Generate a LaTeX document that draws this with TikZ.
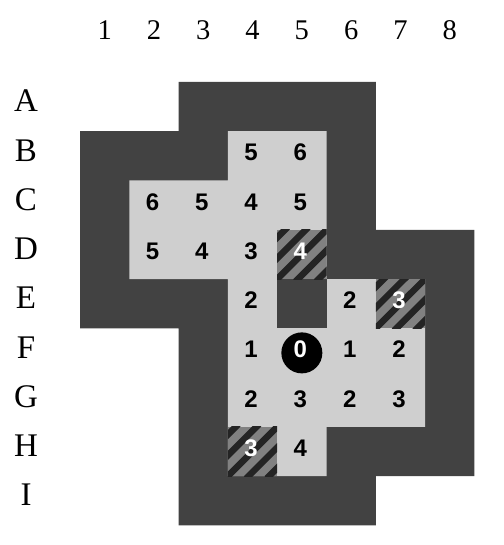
\documentclass[tikz,border=0pt]{standalone}
\usepackage{fontspec}
\setmainfont{Liberation Serif}
\newfontfamily\cellfont{Liberation Sans}
\definecolor{wall}{HTML}{424242}
\definecolor{floorc}{HTML}{CFCFCF}
\definecolor{hatchbg}{HTML}{818181}
\definecolor{hatchfg}{HTML}{242424}
\newcommand\hatchcell[2]{%
  \begin{scope}
    \clip (#1,#2) rectangle ++(1,1);
    \fill[hatchbg] (#1,#2) rectangle ++(1,1);
    \foreach \t in {-1.26,-0.84,-0.42,0,0.42,0.84,1.26}
      \draw[hatchfg, line width=6.5pt] (#1+\t-0.05,#2+1.05) -- ++(1.1,-1.1);
  \end{scope}}
\tikzset{
  collabel/.style={anchor=base, inner sep=0pt, font=\fontsize{28.5}{30}\selectfont},
  rowlabel/.style={anchor=base, inner sep=0pt, font=\fontsize{33}{34}\selectfont},
  num/.style={anchor=base, inner sep=0pt, font=\cellfont\bfseries\fontsize{24}{24}\selectfont},
  numw/.style={num, text=white},
  start/.style={circle, fill=black, minimum size=41pt, inner sep=0pt}
}
\begin{document}
\begin{tikzpicture}[x=1pt,y=-1pt]
\useasboundingbox (0,0) rectangle (503,545);
% column labels
\foreach \k in {1,...,8} {
  \pgfmathsetmacro\cx{80+(\k-0.5)*49.3}
  \node[collabel] (col\k) at (\cx,39.5) {\k};
}
% row labels
\foreach \L [count=\r from 0] in {A,B,C,D,E,F,G,H,I} {
  \pgfmathsetmacro\cy{82+(\r+0.5)*49.25+5.3}
  \node[rowlabel] (row\L) at (26,\cy) {\L};
}
\begin{scope}[shift={(80,82)}, x=49.3pt, y=-49.25pt]
  % walls
  \fill[wall] (2,0) -- (6,0) -- (6,3) -- (8,3) -- (8,8) -- (6,8) -- (6,9)
    -- (2,9) -- (2,5) -- (0,5) -- (0,1) -- (2,1) -- cycle;
  % free floor
  \fill[floorc] (3,1) -- (5,1) -- (5,4) -- (7,4) -- (7,7) -- (5,7) -- (5,8)
    -- (3,8) -- (3,4) -- (1,4) -- (1,2) -- (3,2) -- cycle;
  \fill[wall] (4,4) rectangle (5,5);
  % hatched cells
  \hatchcell{4}{3}
  \hatchcell{6}{4}
  \hatchcell{3}{7}
  % start
  \node[start] (F5) at (4.5,5.5) {};
  \node[numw] at (4.47,5.6) {0};
  % distances
  \node[num] (B4) at (3.47,1.6) {5};
  \node[num] (B5) at (4.47,1.6) {6};
  \node[num] (C2) at (1.47,2.6) {6};
  \node[num] (C3) at (2.47,2.6) {5};
  \node[num] (C4) at (3.47,2.6) {4};
  \node[num] (C5) at (4.47,2.6) {5};
  \node[num] (D2) at (1.47,3.6) {5};
  \node[num] (D3) at (2.47,3.6) {4};
  \node[num] (D4) at (3.47,3.6) {3};
  \node[numw] (D5) at (4.47,3.6) {4};
  \node[num] (E4) at (3.47,4.6) {2};
  \node[num] (E6) at (5.47,4.6) {2};
  \node[numw] (E7) at (6.47,4.6) {3};
  \node[num] (F4) at (3.47,5.6) {1};
  \node[num] (F6) at (5.47,5.6) {1};
  \node[num] (F7) at (6.47,5.6) {2};
  \node[num] (G4) at (3.47,6.6) {2};
  \node[num] (G5) at (4.47,6.6) {3};
  \node[num] (G6) at (5.47,6.6) {2};
  \node[num] (G7) at (6.47,6.6) {3};
  \node[numw] (H4) at (3.47,7.6) {3};
  \node[num] (H5) at (4.47,7.6) {4};
\end{scope}
\end{tikzpicture}
\end{document}
